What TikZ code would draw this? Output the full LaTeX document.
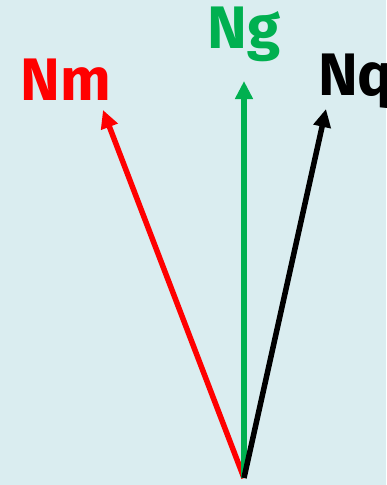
\documentclass[tikz,border=0pt]{standalone}
\usepackage{fontspec}
\setmainfont{Fira Sans}
\usetikzlibrary{arrows.meta}
\definecolor{bgblue}{HTML}{DAEDF0}
\definecolor{ngreen}{HTML}{00B050}
\begin{document}
\begin{tikzpicture}[x=1pt,y=-1pt,
  vec/.style={line width=5.5pt,-{Triangle[length=18pt,width=17pt]}},
  lab/.style={font=\fontsize{60}{60}\selectfont\bfseries,inner sep=0pt}]
 \fill[bgblue] (0,0) rectangle (386,485);
 \useasboundingbox (0,0) rectangle (386,485);
 % common foot of the three vectors
 \coordinate (O) at (244,478);
 \coordinate (tipm) at (103,110);
 \coordinate (tipg) at (244,81);
 \coordinate (tipq) at (326,109);
 \draw[vec,red] (O)--(tipm);
 \draw[vec,ngreen] (O)--(tipg);
 \draw[vec,black] (O)--(tipq);
 \node[lab,red,anchor=base] (Nm) at (66,100) {Nm};
 \node[lab,ngreen,anchor=base] (Ng) at (244,48) {Ng};
 \node[lab,black,anchor=base west] (Nq) at (318,95) {Nq};
\end{tikzpicture}
\end{document}
